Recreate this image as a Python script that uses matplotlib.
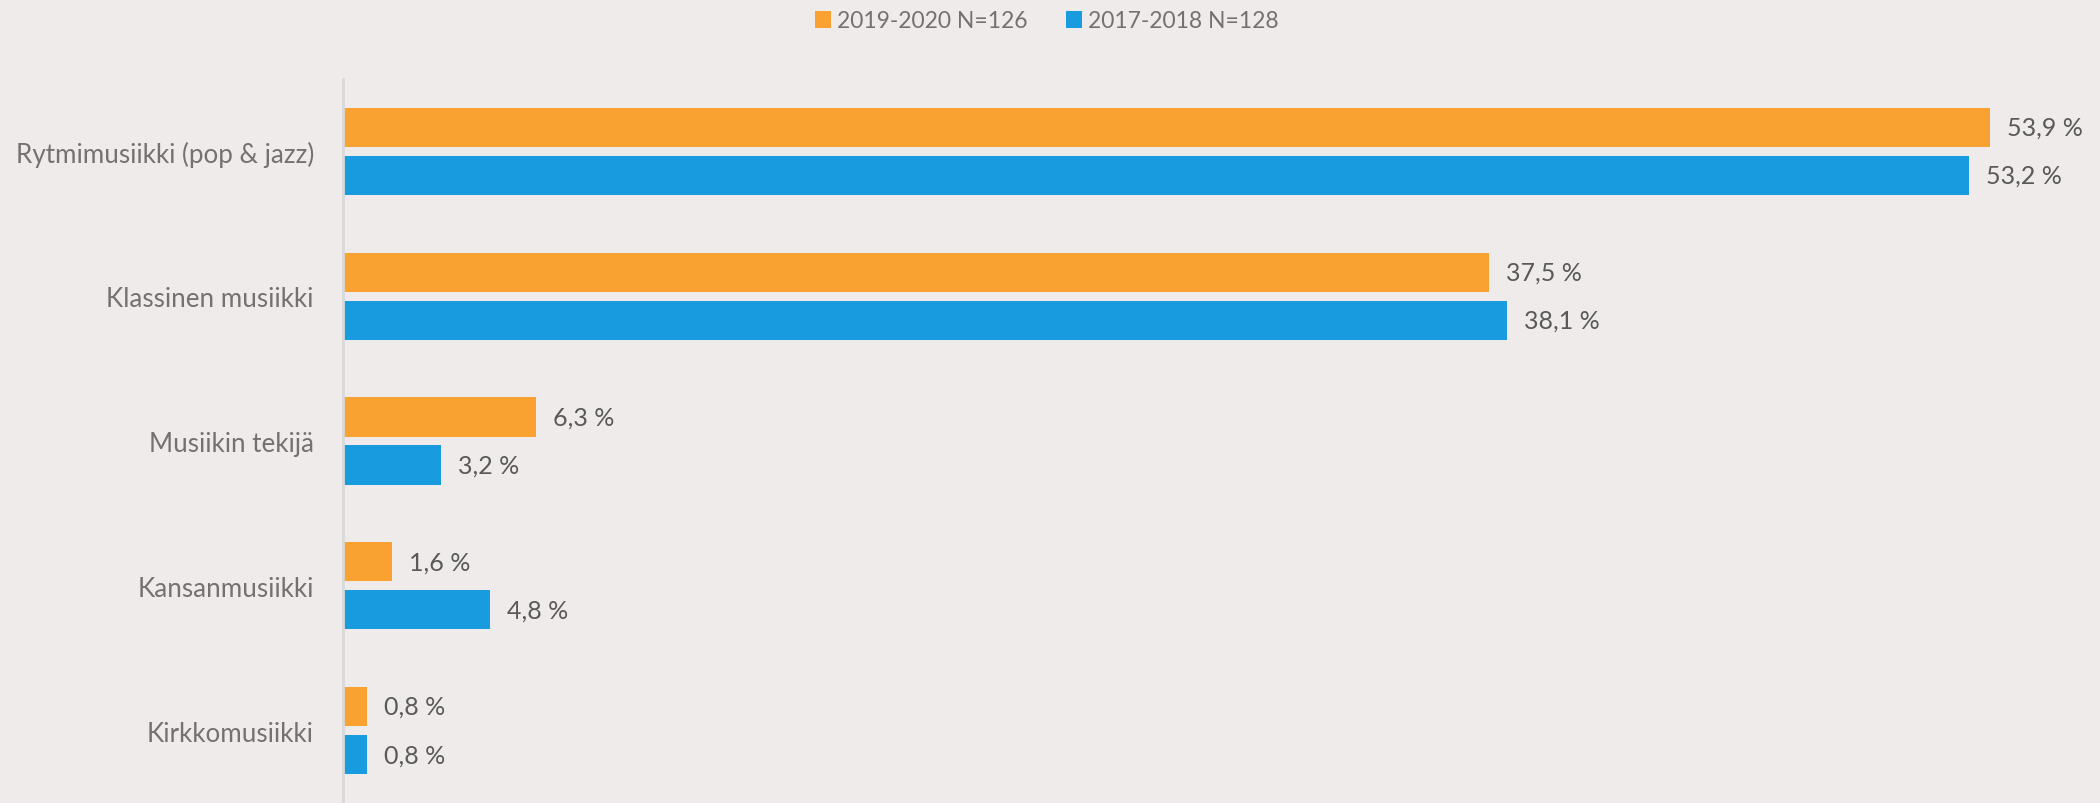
import numpy as np
import matplotlib.pyplot as plt

# === DATA ===
categories = ["Rytmimusiikki (pop & jazz)", "Klassinen musiikki", "Musiikin tekijä",
              "Kansanmusiikki", "Kirkkomusiikki"]
series_names = ["2019-2020 N=126", "2017-2018 N=128"]
vals_2019 = [53.9, 37.5, 6.3, 1.6, 0.8]
vals_2017 = [53.2, 38.1, 3.2, 4.8, 0.8]

# === STYLE ===
BG = "#EFEBEA"
ORANGE = "#F9A231"
BLUE = "#189CDF"
LABEL_COL = "#767171"
VALUE_COL = "#595959"
plt.rcParams['font.family'] = ['Lato', 'DejaVu Sans']

fig = plt.figure(figsize=(21, 8.04), dpi=100, facecolor=BG)
ax = fig.add_axes([343 / 2100, 0, 1 - 343 / 2100, 724 / 804])
ax.set_facecolor(BG)

y = np.arange(len(categories))
h = 0.27
off = 0.166
b1 = ax.barh(y - off, vals_2019, height=h, color=ORANGE, label=series_names[0])
b2 = ax.barh(y + off, vals_2017, height=h, color=BLUE, label=series_names[1])

for bars, vals in [(b1, vals_2019), (b2, vals_2017)]:
    for bar, v in zip(bars, vals):
        ax.annotate(f"{v:.1f} %".replace(".", ","),
                    (bar.get_width(), bar.get_y() + bar.get_height() / 2),
                    xytext=(17, 0), textcoords="offset pixels",
                    va="center", ha="left", fontsize=18, color=VALUE_COL)

ax.set_xlim(0, 57.5)
ax.set_ylim(len(categories) - 0.5, -0.5)
ax.set_yticks(y)
ax.set_yticklabels(categories, fontsize=18.7, color=LABEL_COL)
ax.tick_params(axis="y", length=0, pad=21)
ax.set_xticks([])
for s in ["top", "right", "bottom"]:
    ax.spines[s].set_visible(False)
ax.spines["left"].set_color("#D9D9D9")
ax.spines["left"].set_linewidth(2)

fig.legend(handles=[b1, b2], loc="center", bbox_to_anchor=(1047 / 2100, 1 - 22 / 804),
           ncol=2, frameon=False, fontsize=16.5, labelcolor=LABEL_COL,
           handlelength=0.7, handleheight=0.7, handletextpad=0.28, columnspacing=1.65)

fig.savefig("out.png", dpi=100, facecolor=BG)
